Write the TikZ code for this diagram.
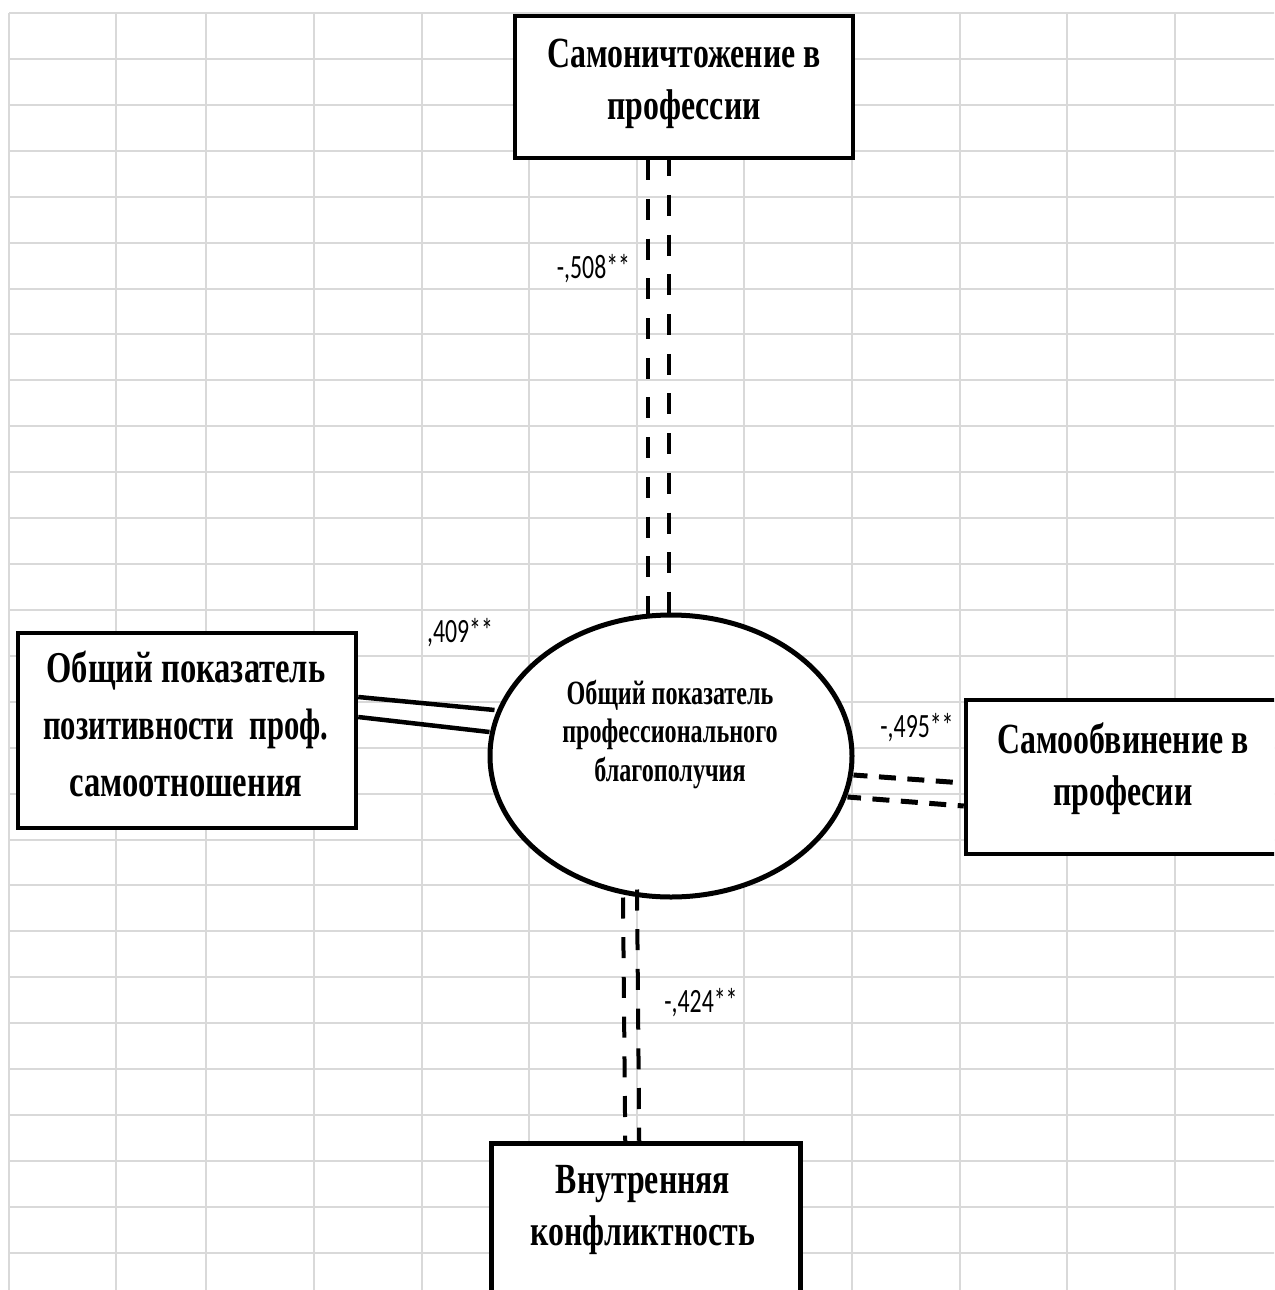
\documentclass[tikz,border=0pt]{standalone}
\usepackage{graphicx}
\usepackage{fontspec}
\setmainfont{Liberation Serif}
\newfontfamily\boxfont[FakeStretch=0.74]{Liberation Serif}
\newfontfamily\ellfont[FakeStretch=0.71]{Liberation Serif}
\newfontfamily\numfont[FakeStretch=0.70]{Carlito}
\usetikzlibrary{calc,shapes.geometric}
\definecolor{gridgray}{HTML}{D9D9D9}
\begin{document}
\begin{tikzpicture}[x=1pt,y=-1pt,
  gridline/.style={draw=gridgray, line width=2pt},
  boxnode/.style={draw=black, line width=4.5pt, fill=white, rectangle, inner sep=0pt},
  ellnode/.style={draw=black, line width=5pt, fill=white, ellipse, inner sep=0pt},
  boxtext/.style={align=center, inner sep=0pt, font=\boxfont\bfseries\fontsize{43}{52}\selectfont},
  elltext/.style={align=center, inner sep=0pt, font=\ellfont\bfseries\fontsize{34}{38.5}\selectfont},
  numlabel/.style={anchor=base, inner sep=0pt, font=\numfont\fontsize{34}{40}\selectfont},
  solidlink/.style={draw=black, line width=4.5pt},
  vdash/.style={draw=black, line width=4pt, dash pattern=on 21pt off 18.7pt},
  hdash/.style={draw=black, line width=5pt, dash pattern=on 17pt off 11.5pt}
]
\useasboundingbox (0,0) rectangle (1274,1290);
\clip (0,0) rectangle (1274,1290);
\fill[white] (0,0) rectangle (1274,1290);

% grid
\foreach \gx in {9,116,206,314,422,529,637,744,852,960,1067,1175}
  \draw[gridline] (\gx,13) -- (\gx,1295);
\foreach \k in {0,...,27}
  \draw[gridline] (9,{13+45.92*\k}) -- (1280,{13+45.92*\k});

% nodes
\node[boxnode, minimum width=338, minimum height=142] (top) at (684,87) {};
\node[boxnode, minimum width=338, minimum height=195] (left) at (187,730.5) {};
\node[boxnode, minimum width=314, minimum height=154] (right) at (1123,777) {};
\node[boxnode, minimum width=309, minimum height=200, anchor=north west] (bottom) at (489,1141) {};
\node[ellnode, minimum width=362, minimum height=282] (el) at (671,756) {};

% connectors
\draw[vdash, dash phase=1pt] ($(top.south)+(-36,0)$) -- ($(el.north)+(-23,1)$);
\draw[vdash, dash phase=5pt] ($(top.south)+(-15,0)$) -- ($(el.north)+(-2,0)$);
\draw[vdash] ($(el.south)+(-48,-2)$) -- ($(bottom.north)+(-20.5,0)$);
\draw[vdash] ($(el.south)+(-34,-10)$) -- ($(bottom.north)+(-6.5,0)$);
\draw[solidlink] ($(left.east)+(0,-33.5)$) -- ($(el.west)+(7,-46)$);
\draw[solidlink] ($(left.east)+(0,-13.5)$) -- ($(el.west)+(2,-24)$);
\draw[hdash, dash phase=3pt] ($(el.east)+(-1,19)$) -- ($(right.west)+(0,6)$);
\draw[hdash, dash phase=3.5pt] ($(el.east)+(-7,41)$) -- ($(right.west)+(0,29)$);

% texts
\node[boxtext] (topT) at (684,84) {Самоничтожение в\\профессии};
\node[boxtext, font=\boxfont\bfseries\fontsize{44}{57}\selectfont] (leftT) at (186,724) {Общий показатель\\\scalebox{0.94}[1]{позитивности\ \ проф.}\\самоотношения};
\node[boxtext] (rightT) at (1123,769) {Самообвинение в\\професии};
\node[boxtext] (bottomT) at (643,1210) {Внутренняя\\конфликтность};
\node[elltext] (elT) at (670,734) {Общий показатель\\профессионального\\благополучия};

% labels
\node[numlabel] (l508) at (593.5,278) {-,508**};
\node[numlabel] (l409) at (460,642) {,409**};
\node[numlabel] (l495) at (917,737) {-,495**};
\node[numlabel] (l424) at (701,1012) {-,424**};
\end{tikzpicture}
\end{document}
